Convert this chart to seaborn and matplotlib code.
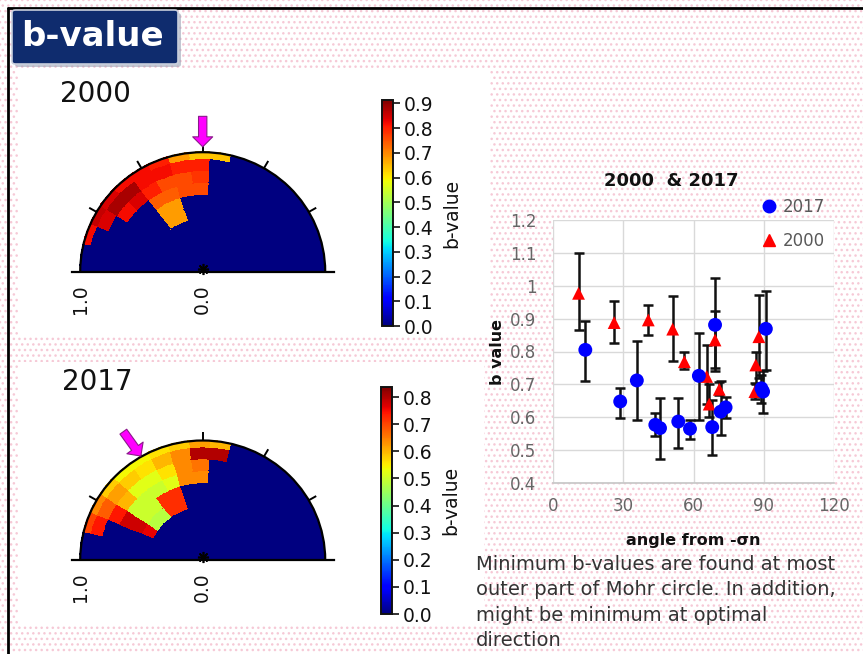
import numpy as np
import matplotlib
matplotlib.use("Agg")
import matplotlib.pyplot as plt
import seaborn as sns
import pandas as pd
from matplotlib.patches import Rectangle, FancyBboxPatch, Wedge, Arc
from matplotlib.lines import Line2D

# ---------------- data ----------------
# right panel: b value vs angle from -sigma_n
angle_2017 = [13.8, 28.7, 35.8, 43.7, 45.7, 53.5, 58.5, 62.3, 68.0, 69.2, 71.6, 73.7, 89.0, 89.7, 90.9]
b_2017 = [0.805, 0.648, 0.712, 0.577, 0.567, 0.587, 0.565, 0.726, 0.570, 0.881, 0.617, 0.630, 0.688, 0.678, 0.869]
lo_2017 = [0.709, 0.599, 0.592, 0.543, 0.474, 0.506, 0.534, 0.592, 0.484, 0.740, 0.547, 0.597, 0.644, 0.612, 0.744]
hi_2017 = [0.893, 0.688, 0.833, 0.612, 0.660, 0.660, 0.592, 0.855, 0.653, 1.025, 0.709, 0.661, 0.730, 0.740, 0.985]

angle_2000 = [10.9, 26.1, 40.7, 51.1, 56.1, 65.6, 66.7, 69.2, 71.0, 86.2, 86.6, 87.9]
b_2000 = [0.977, 0.888, 0.896, 0.868, 0.769, 0.724, 0.640, 0.835, 0.685, 0.678, 0.759, 0.845]
lo_2000 = [0.866, 0.827, 0.850, 0.772, 0.747, 0.640, 0.600, 0.750, 0.668, 0.655, 0.700, 0.720]
hi_2000 = [1.100, 0.955, 0.942, 0.969, 0.797, 0.820, 0.700, 0.923, 0.707, 0.705, 0.800, 0.972]

x_ticks = [0, 30, 60, 90, 120]
x_ticklabels = ["0", "30", "60", "90", "120"]
y_ticks = [0.4, 0.5, 0.6, 0.7, 0.8, 0.9, 1.0, 1.1, 1.2]
y_ticklabels = ["0.4", "0.5", "0.6", "0.7", "0.8", "0.9", "1", "1.1", "1.2"]

# left panels: b-value on the Mohr half circle (polar cells)
theta_edges = [77, 87, 97, 107, 117, 127, 137, 147, 157, 167, 177]   # degrees
r_edges = [0.45, 0.55, 0.65, 0.75, 0.85, 0.95, 1.0]
# rows: inner ring -> outer ring ; columns: theta bins low -> high
bgrid_2000 = [
    [0.00, 0.00, 0.00, 0.68, 0.68, 0.00, 0.00, 0.00, 0.00, 0.00],
    [0.00, 0.00, 0.00, 0.68, 0.68, 0.00, 0.00, 0.00, 0.00, 0.00],
    [0.00, 0.76, 0.76, 0.74, 0.74, 0.00, 0.00, 0.00, 0.00, 0.00],
    [0.00, 0.78, 0.76, 0.76, 0.80, 0.84, 0.82, 0.00, 0.00, 0.00],
    [0.00, 0.80, 0.80, 0.82, 0.82, 0.88, 0.88, 0.84, 0.00, 0.00],
    [0.64, 0.64, 0.68, 0.80, 0.82, 0.82, 0.84, 0.86, 0.82, 0.00],
]
bgrid_2017 = [
    [0.00, 0.00, 0.00, 0.72, 0.72, 0.48, 0.48, 0.76, 0.00, 0.00],
    [0.00, 0.00, 0.00, 0.72, 0.72, 0.50, 0.50, 0.78, 0.00, 0.00],
    [0.00, 0.64, 0.64, 0.52, 0.50, 0.50, 0.50, 0.78, 0.00, 0.00],
    [0.00, 0.66, 0.64, 0.56, 0.52, 0.52, 0.60, 0.74, 0.00, 0.00],
    [0.80, 0.80, 0.64, 0.60, 0.56, 0.58, 0.62, 0.68, 0.74, 0.00],
    [0.60, 0.62, 0.58, 0.56, 0.54, 0.54, 0.58, 0.64, 0.70, 0.00],
]
vmax_2000 = 0.914
vmax_2017 = 0.837
cbar_ticks_2000 = [0.0, 0.1, 0.2, 0.3, 0.4, 0.5, 0.6, 0.7, 0.8, 0.9]
cbar_ticks_2017 = [0.0, 0.1, 0.2, 0.3, 0.4, 0.5, 0.6, 0.7, 0.8]
rim_ticks_deg = [30, 60, 90, 120, 150]
base_ticks = [-0.8, -0.6, -0.4, -0.2, 0.2, 0.4, 0.6, 0.8]

note_text = ("Minimum b-values are found at most\n"
             "outer part of Mohr circle. In addition,\n"
             "might be minimum at optimal\n"
             "direction")

# ---------------- figure ----------------
sns.set_theme(style="white")
plt.rcParams["font.family"] = ["DejaVu Sans"]
plt.rcParams["hatch.linewidth"] = 1.0

W, H = 863, 654
fig = plt.figure(figsize=(W / 100, H / 100), dpi=100)
fig.patch.set_facecolor("white")


def box(x0, y0, x1, y1):
    return [x0 / W, 1 - y1 / H, (x1 - x0) / W, (y1 - y0) / H]


def fx(px):
    return px / W


def fy(py):
    return 1 - py / H


# dotted slide background
fig.patches.append(Rectangle((0, 0), 1, 1, transform=fig.transFigure, facecolor="white",
                             edgecolor="#f6c9d6", hatch="...", lw=0, zorder=-20))
# white image panels
for (x0, y0, x1, y1) in [(18, 68, 490, 336), (18, 362, 484, 624)]:
    fig.patches.append(Rectangle((fx(x0), fy(y1)), (x1 - x0) / W, (y1 - y0) / H,
                                 transform=fig.transFigure, facecolor="white", lw=0, zorder=-10))
# slide border
fig.lines.append(Line2D([fx(8), 1], [fy(8), fy(8)], transform=fig.transFigure, color="black", lw=2))
fig.lines.append(Line2D([fx(8), fx(8)], [fy(8), 0], transform=fig.transFigure, color="black", lw=2))

# title box
fig.patches.append(FancyBboxPatch((fx(15), fy(67)), (178 - 12) / W, (64 - 10) / H,
                                  boxstyle="round,pad=0,rounding_size=0.004",
                                  transform=fig.transFigure, facecolor="#9aa3b5", lw=0, zorder=1, alpha=0.6))
fig.patches.append(FancyBboxPatch((fx(12), fy(64)), (178 - 12) / W, (64 - 10) / H,
                                  boxstyle="round,pad=0,rounding_size=0.004",
                                  transform=fig.transFigure, facecolor="#0f2c6e",
                                  edgecolor="#c9cfdc", lw=1.2, zorder=2))
fig.text(fx(21), fy(37), "b-value", color="white", fontsize=24.5, fontweight="bold",
         ha="left", va="center", zorder=3)

jet = plt.get_cmap("jet")
Rx, Ry = 122.5, 119.5


def draw_semi(center, grid, vmax, cbox, ticks, title, title_xy, arrow_from, arrow_to):
    cx, cy = center
    xl, yl = (-1.1, 1.1), (-0.05, 1.35)
    ax = fig.add_axes(box(cx + xl[0] * Rx, cy - yl[1] * Ry, cx + xl[1] * Rx, cy - yl[0] * Ry))
    ax.set_xlim(*xl)
    ax.set_ylim(*yl)
    ax.patch.set_alpha(0)
    ax.add_patch(Wedge((0, 0), 1, 0, 180, facecolor=jet(0.0), edgecolor="none", zorder=1))
    th = np.asarray(theta_edges, float)
    sub = 8
    th_f = np.concatenate([np.linspace(th[i], th[i + 1], sub, endpoint=False)
                           for i in range(len(th) - 1)] + [[th[-1]]])
    C = np.repeat(np.asarray(grid, float), sub, axis=1)
    T, R = np.meshgrid(np.deg2rad(th_f), np.asarray(r_edges, float))
    mesh = ax.pcolormesh(R * np.cos(T), R * np.sin(T), C, cmap="jet", vmin=0, vmax=vmax,
                         shading="flat", edgecolors="face", linewidth=0.3, zorder=2)
    ax.add_patch(Arc((0, 0), 2, 2, theta1=0, theta2=180, color="black", lw=1.6, zorder=4))
    for a in rim_ticks_deg:
        t = np.deg2rad(a)
        ax.plot([np.cos(t), 1.07 * np.cos(t)], [np.sin(t), 1.07 * np.sin(t)],
                color="black", lw=1.4, zorder=4, solid_capstyle="butt")
    ax.plot([0], [0.025], marker=(8, 2, 0), color="black", ms=8, mew=1.2, zorder=5)
    for s in ["top", "right", "left"]:
        ax.spines[s].set_visible(False)
    sp = ax.spines["bottom"]
    sp.set_position(("data", 0))
    sp.set_bounds(-1.07, 1.07)
    sp.set_linewidth(1.6)
    sp.set_color("black")
    sp.set_zorder(6)
    ax.set_yticks([])
    ax.set_xticks([-1, 0])
    ax.set_xticklabels(["1.0", "0.0"], rotation=90, fontsize=13.5, color="#111111")
    ax.set_xticks(base_ticks, minor=True)
    ax.tick_params(axis="x", which="major", bottom=True, length=0, pad=9)
    ax.tick_params(axis="x", which="minor", bottom=True, direction="in", length=6,
                   width=1.4, color="black")
    ax.annotate("", xy=arrow_to, xytext=arrow_from, annotation_clip=False,
                arrowprops=dict(arrowstyle="simple,head_length=0.6,head_width=1.2,tail_width=0.5",
                                fc="#ff00ff", ec="#8a1a8a", lw=0.8, mutation_scale=12,
                                shrinkA=0, shrinkB=0), zorder=7)
    fig.text(fx(title_xy[0]), fy(title_xy[1]), title, fontsize=20, ha="left", va="center",
             color="#111111")
    cax = fig.add_axes(box(*cbox))
    cb = fig.colorbar(mesh, cax=cax, ticks=ticks)
    cb.ax.set_yticklabels([f"{t:.1f}" for t in ticks])
    cb.ax.tick_params(right=True, length=5, width=1.2, labelsize=13.5, pad=3,
                      colors="#111111", direction="out")
    cb.outline.set_linewidth(1.4)
    cb.outline.set_edgecolor("#111111")
    cb.set_label("b-value", fontsize=13.5, labelpad=6, color="#111111")
    return ax


draw_semi((202.7, 271.7), bgrid_2000, vmax_2000, (382, 100, 393, 326), cbar_ticks_2000,
          "2000", (60, 94), (0, 1.30), (0, 1.045))
draw_semi((202.7, 560.0), bgrid_2017, vmax_2017, (381, 387, 392, 614), cbar_ticks_2017,
          "2017", (62, 382), (-0.648, 1.074), (-0.505, 0.87))

# ---------------- right scatter panel ----------------
ax3 = fig.add_axes(box(553, 220, 834, 483))
ax3.set_facecolor("white")
ax3.set_xlim(0, 120)
ax3.set_ylim(0.4, 1.2)
ax3.set_xticks(x_ticks)
ax3.set_xticklabels(x_ticklabels)
ax3.set_yticks(y_ticks)
ax3.set_yticklabels(y_ticklabels)
ax3.grid(True, color="#d9d9d9", lw=1)
ax3.set_axisbelow(True)
for s in ["top", "right", "left"]:
    ax3.spines[s].set_visible(False)
ax3.spines["bottom"].set_color("#c8c8c8")
ax3.tick_params(axis="both", labelsize=12, labelcolor="#666666", length=0)
ax3.tick_params(axis="x", pad=10)
ax3.tick_params(axis="y", pad=12)

a00, b00 = np.asarray(angle_2000), np.asarray(b_2000)
a17, b17 = np.asarray(angle_2017), np.asarray(b_2017)
ax3.errorbar(a00, b00, yerr=[b00 - np.asarray(lo_2000), np.asarray(hi_2000) - b00], fmt="none",
             ecolor="#111111", elinewidth=1.8, capsize=3.5, capthick=1.8, zorder=2)
ax3.errorbar(a17, b17, yerr=[b17 - np.asarray(lo_2017), np.asarray(hi_2017) - b17], fmt="none",
             ecolor="#111111", elinewidth=1.8, capsize=3.5, capthick=1.8, zorder=2)
df00 = pd.DataFrame({"angle": angle_2000, "b": b_2000})
df17 = pd.DataFrame({"angle": angle_2017, "b": b_2017})
sns.scatterplot(data=df00, x="angle", y="b", ax=ax3, marker="^", color="#ff0000", s=85,
                edgecolor="none", zorder=3)
sns.scatterplot(data=df17, x="angle", y="b", ax=ax3, marker="o", color="#0000ff", s=100,
                edgecolor="none", zorder=4)
ax3.set_xlabel("")
ax3.set_ylabel("")

fig.text(fx(671), fy(181), "2000  & 2017", fontsize=13, fontweight="bold", ha="center",
         va="center", color="#111111")
fig.text(fx(498), fy(352), "b value", fontsize=11.5, fontweight="bold", rotation=90,
         ha="center", va="center", color="#111111")
fig.text(fx(693), fy(541), "angle from -σn", fontsize=11.5, fontweight="bold", ha="center",
         va="center", color="#111111")

handles = [Line2D([], [], marker="o", color="#0000ff", ls="", ms=9, label="2017"),
           Line2D([], [], marker="^", color="#ff0000", ls="", ms=8.5, label="2000")]
ax3.legend(handles=handles, loc="upper left", bbox_to_anchor=(fx(761), fy(198)),
           bbox_transform=fig.transFigure, frameon=False, fontsize=12, labelcolor="#595959",
           handletextpad=0.3, labelspacing=0.95, handlelength=1.0, borderpad=0, borderaxespad=0)

fig.text(fx(476), fy(555), note_text, fontsize=14, ha="left", va="top", color="#333333",
         linespacing=1.42)

fig.savefig("out.png", dpi=100)
